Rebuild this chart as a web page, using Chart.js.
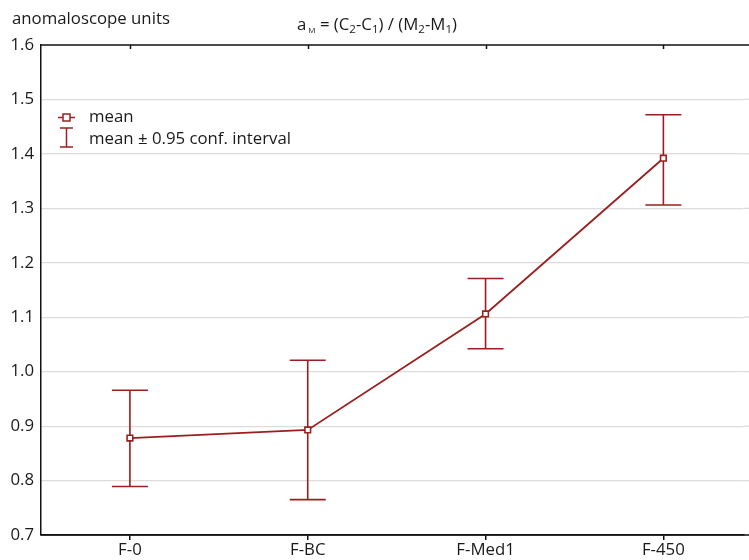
<!DOCTYPE html>
<html>
<head>
<meta charset="utf-8">
<script src="https://cdn.jsdelivr.net/npm/chart.js@4.4.0/dist/chart.umd.min.js"></script>
<style>
  body { margin: 0; background: #fff; }
</style>
</head>
<body>
<canvas id="chart" width="749" height="560"></canvas>
<script>
var categories = ["F-0", "F-BC", "F-Med1", "F-450"];
var means = [0.878, 0.893, 1.106, 1.392];
var ciLower = [0.789, 0.765, 1.042, 1.306];
var ciUpper = [0.966, 1.021, 1.171, 1.472];
var yTicks = [0.7, 0.8, 0.9, 1.0, 1.1, 1.2, 1.3, 1.4, 1.5, 1.6];

var red = "#9b1f1f";
var font = "'Open Sans', 'Noto Sans', sans-serif";
var fs = 16.8;

var points = means.map(function (m, i) { return { x: i, y: m }; });

var extras = {
  id: 'extras',
  beforeDatasetsDraw: function (chart) {
    var c = chart.ctx, xs = chart.scales.x, ys = chart.scales.y, a = chart.chartArea;
    c.save();
    // carry the grid lines to the canvas edge
    c.strokeStyle = "#dcdcdc";
    c.lineWidth = 1.2;
    c.beginPath();
    yTicks.slice(1, -1).forEach(function (v) {
      var py = ys.getPixelForValue(v);
      c.moveTo(a.right, py); c.lineTo(chart.width, py);
    });
    c.stroke();

    c.strokeStyle = red;
    c.lineWidth = 1.6;
    for (var i = 0; i < means.length; i++) {
      var px = xs.getPixelForValue(i);
      var top = ys.getPixelForValue(ciUpper[i]);
      var bot = ys.getPixelForValue(ciLower[i]);
      c.beginPath();
      c.moveTo(px, top); c.lineTo(px, bot);
      c.moveTo(px - 18, top); c.lineTo(px + 18, top);
      c.moveTo(px - 18, bot); c.lineTo(px + 18, bot);
      c.stroke();
    }
    c.restore();
  },
  afterDraw: function (chart) {
    var c = chart.ctx, a = chart.chartArea, xs = chart.scales.x;
    c.save();
    // top border and inward ticks
    c.strokeStyle = "#111";
    c.lineWidth = 1.5;
    c.beginPath();
    c.moveTo(a.left, a.top); c.lineTo(chart.width, a.top);
    c.moveTo(a.left, a.bottom); c.lineTo(chart.width, a.bottom);
    for (var i = 0; i < categories.length; i++) {
      var px = Math.round(xs.getPixelForValue(i)) + 0.5;
      c.moveTo(px, a.top); c.lineTo(px, a.top + 4);
    }
    c.stroke();

    // header texts
    c.fillStyle = "#1a1a1a";
    c.textBaseline = "alphabetic";
    c.font = fs + "px " + font;
    c.fillText("anomaloscope units", 12, 24);

    var parts = [["a", 0], ["M", 1], [" = (C", 0], ["2", 1], ["-C", 0], ["1", 1],
                 [") / (M", 0], ["2", 1], ["-M", 0], ["1", 1], [")", 0]];
    var x = 297, base = 30;
    parts.forEach(function (p) {
      if (p[1]) {
        c.font = (p[0] === "M" ? "8px " : "11.5px ") + font;
        if (p[0] === "M") x += 2;
        c.fillText(p[0], x, base + 3);
      } else {
        c.font = fs + "px " + font;
        c.fillText(p[0], x, base);
      }
      x += c.measureText(p[0]).width;
    });

    // legend
    c.strokeStyle = red;
    c.lineWidth = 1.5;
    c.beginPath();
    c.moveTo(58, 117.5); c.lineTo(75, 117.5);
    c.stroke();
    c.fillStyle = "#fff";
    c.fillRect(63, 114, 7, 7);
    c.strokeRect(63, 114, 7, 7);
    c.beginPath();
    c.moveTo(66.5, 128); c.lineTo(66.5, 147);
    c.moveTo(60, 128); c.lineTo(73, 128);
    c.moveTo(60, 147); c.lineTo(73, 147);
    c.stroke();
    c.fillStyle = "#1a1a1a";
    c.font = fs + "px " + font;
    c.fillText("mean", 89, 122);
    c.fillText("mean \u00b1 0.95 conf. interval", 89, 144);
    c.restore();
  }
};

new Chart(document.getElementById("chart"), {
  type: 'line',
  data: {
    datasets: [{
      label: "mean",
      data: points,
      borderColor: red,
      borderWidth: 1.8,
      backgroundColor: "#fff",
      pointStyle: 'rect',
      pointRadius: 4,
      pointBorderWidth: 1.6,
      pointBorderColor: red,
      pointBackgroundColor: "#fff",
      tension: 0
    }]
  },
  options: {
    responsive: false,
    animation: false,
    layout: { padding: { top: 45, right: 0, left: 0, bottom: 0 } },
    plugins: { legend: { display: false }, tooltip: { enabled: false } },
    scales: {
      x: {
        type: 'linear',
        min: -0.5,
        max: 3.45,
        afterBuildTicks: function (s) {
          s.ticks = categories.map(function (c, i) { return { value: i }; });
        },
        afterFit: function (s) { s.height = 25; },
        ticks: {
          callback: function (v) { return categories[v]; },
          color: "#1a1a1a",
          font: { family: font, size: fs },
          padding: 0,
          maxRotation: 0
        },
        grid: { drawOnChartArea: false, tickLength: 5, color: "#111", lineWidth: 1.5 },
        border: { color: "#111", width: 1.5 }
      },
      y: {
        min: 0.7,
        max: 1.6,
        afterBuildTicks: function (s) {
          s.ticks = yTicks.map(function (v) { return { value: v }; });
        },
        afterFit: function (s) { s.width = 41; },
        ticks: {
          callback: function (v) { return v.toFixed(1); },
          color: "#1a1a1a",
          font: { family: font, size: fs },
          padding: 7
        },
        grid: {
          drawTicks: false,
          color: function (ctx) {
            var v = ctx.tick ? ctx.tick.value : 0;
            return (Math.abs(v - 0.7) < 1e-6 || Math.abs(v - 1.6) < 1e-6) ? "rgba(0,0,0,0)" : "#dcdcdc";
          },
          lineWidth: 1.2
        },
        border: { color: "#111", width: 1.5 }
      }
    }
  },
  plugins: [extras]
});
</script>
</body>
</html>
